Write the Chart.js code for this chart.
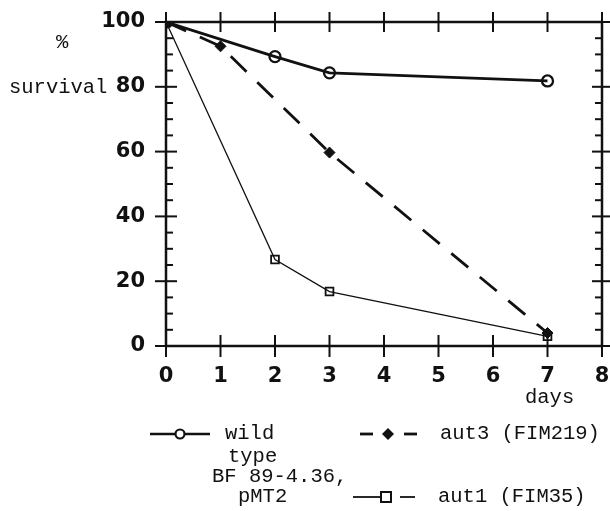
<!DOCTYPE html>
<html>
<head>
<meta charset="utf-8">
<script src="https://cdn.jsdelivr.net/npm/chart.js@4/dist/chart.umd.min.js"></script>
<style>
  html, body { margin: 0; padding: 0; background: #fff; }
  #wrap { width: 610px; height: 511px; position: relative; }
</style>
</head>
<body>
<div id="wrap"><canvas id="survie"></canvas></div>
<script>
// jours et valeurs
const days = [0, 1, 2, 3, 4, 5, 6, 7, 8];
const yTicks = [0, 20, 40, 60, 80, 100];

const wildDays = [0, 2, 3, 7];
const wildSurvival = [100, 89.3, 84.3, 81.8];

const aut3Days = [0, 1, 3, 7];
const aut3Survival = [100, 92.5, 59.7, 4];

const aut1Days = [0, 2, 3, 7];
const aut1Survival = [100, 26.7, 16.8, 3];

const INK = "#111";
const MONO = "'Liberation Mono', 'DejaVu Sans Mono', monospace";
const SANS = "'DejaVu Sans', sans-serif";

const toPoints = (xs, ys) => xs.map((x, i) => ({ x: x, y: ys[i] }));

// cadre, graduations, titres et légende
const decorPlugin = {
  id: "decor",
  afterDraw(chart) {
    const ctx = chart.ctx;
    const xs = chart.scales.x;
    const ys = chart.scales.y;
    const a = chart.chartArea;
    const seg = (x1, y1, x2, y2) => {
      ctx.beginPath();
      ctx.moveTo(x1, y1);
      ctx.lineTo(x2, y2);
      ctx.stroke();
    };

    ctx.save();
    ctx.strokeStyle = INK;
    ctx.lineCap = "butt";

    // cadre
    ctx.lineWidth = 2.5;
    ctx.strokeRect(a.left, a.top, a.right - a.left, a.bottom - a.top);

    // graduations en x (haut et bas, qui traversent l'axe)
    ctx.lineWidth = 2;
    days.forEach((d) => {
      const px = xs.getPixelForValue(d);
      seg(px, a.top - 10, px, a.top + 10);
      seg(px, a.bottom - 11, px, a.bottom + 11);
    });

    // graduations en y
    for (let v = 0; v <= 100; v += 5) {
      const py = ys.getPixelForValue(v);
      if (v % 20 === 0) {
        seg(a.left - 11, py, a.left + 11, py);
        seg(a.right - 10, py, a.right + 10, py);
      } else {
        seg(a.left, py, a.left + 7, py);
        seg(a.right - 7, py, a.right, py);
      }
    }

    // titres des axes
    ctx.fillStyle = INK;
    ctx.font = "20.5px " + MONO;
    ctx.textBaseline = "middle";
    ctx.textAlign = "left";
    ctx.fillText("%", 56, 43);
    ctx.fillText("survival", 9, 88);
    ctx.fillText("days", 525, 398);

    // légende
    const rowA = 434;
    const rowB = 497;

    // wild type
    ctx.lineWidth = 2.5;
    seg(150, rowA, 210, rowA);
    ctx.fillStyle = "#fff";
    ctx.beginPath();
    ctx.arc(180, rowA, 4.5, 0, Math.PI * 2);
    ctx.fill();
    ctx.lineWidth = 2.2;
    ctx.stroke();

    // aut3
    ctx.lineWidth = 2.8;
    seg(360, rowA, 373, rowA);
    seg(404, rowA, 417, rowA);
    ctx.fillStyle = INK;
    ctx.beginPath();
    ctx.moveTo(388, rowA - 6);
    ctx.lineTo(394, rowA);
    ctx.lineTo(388, rowA + 6);
    ctx.lineTo(382, rowA);
    ctx.closePath();
    ctx.fill();

    // aut1
    ctx.lineWidth = 1.8;
    seg(353, rowB, 380, rowB);
    seg(400, rowB, 415, rowB);
    ctx.lineWidth = 2;
    ctx.strokeRect(381, rowB - 5, 10, 10);

    ctx.fillStyle = INK;
    ctx.font = "20.5px " + MONO;
    ctx.fillText("wild", 225, rowA);
    ctx.fillText("type", 228, 457);
    ctx.fillText("BF 89-4.36,", 212, 477);
    ctx.fillText("pMT2", 238, rowB);
    ctx.fillText("aut3 (FIM219)", 440, rowA);
    ctx.fillText("aut1 (FIM35)", 438, rowB);

    ctx.restore();
  },
};

const data = {
  datasets: [
    {
      label: "aut3 (FIM219)",
      data: toPoints(aut3Days, aut3Survival),
      borderColor: INK,
      borderWidth: 2.8,
      borderDash: [22, 15],
      pointStyle: (c) => (c.dataIndex === 0 ? "rect" : "rectRot"),
      pointRadius: (c) => (c.dataIndex === 0 ? 7 : 5.5),
      pointBackgroundColor: INK,
      pointBorderColor: INK,
      pointBorderWidth: 1,
    },
    {
      label: "aut1 (FIM35)",
      data: toPoints(aut1Days, aut1Survival),
      borderColor: INK,
      borderWidth: 1.3,
      pointStyle: "rect",
      pointRadius: 5.5,
      pointBackgroundColor: "rgba(0,0,0,0)",
      pointBorderColor: INK,
      pointBorderWidth: 1.8,
    },
    {
      label: "wild type BF 89-4.36, pMT2",
      data: toPoints(wildDays, wildSurvival),
      borderColor: INK,
      borderWidth: 2.8,
      pointStyle: "circle",
      pointRadius: 5.5,
      pointBackgroundColor: "rgba(0,0,0,0)",
      pointBorderColor: INK,
      pointBorderWidth: 2.3,
    },
  ],
};

const options = {
  responsive: true,
  maintainAspectRatio: false,
  animation: false,
  showLine: true,
  layout: { padding: { top: 22, right: 8, left: 0, bottom: 0 } },
  plugins: {
    legend: { display: false },
    tooltip: { enabled: false },
  },
  scales: {
    x: {
      type: "linear",
      min: 0,
      max: 8,
      afterBuildTicks: (scale) => {
        scale.ticks = days.map((d) => ({ value: d }));
      },
      afterFit: (scale) => {
        scale.height = 165;
        scale.paddingLeft = 0;
        scale.paddingRight = 0;
      },
      ticks: {
        color: INK,
        font: { family: SANS, size: 21, weight: "bold" },
        padding: 10,
        maxRotation: 0,
      },
      grid: { display: false },
      border: { display: false },
    },
    y: {
      min: 0,
      max: 100,
      afterBuildTicks: (scale) => {
        scale.ticks = yTicks.map((v) => ({ value: v }));
      },
      afterFit: (scale) => {
        scale.width = 166;
        scale.paddingTop = 0;
        scale.paddingBottom = 0;
      },
      ticks: {
        color: INK,
        font: { family: SANS, size: 21, weight: "bold" },
        padding: 13,
      },
      grid: { display: false },
      border: { display: false },
    },
  },
};

// Création du graphique
const ctx = document.getElementById("survie").getContext("2d");
const survieChart = new Chart(ctx, {
  type: "scatter",
  data: data,
  options: options,
  plugins: [decorPlugin],
});
</script>
</body>
</html>
